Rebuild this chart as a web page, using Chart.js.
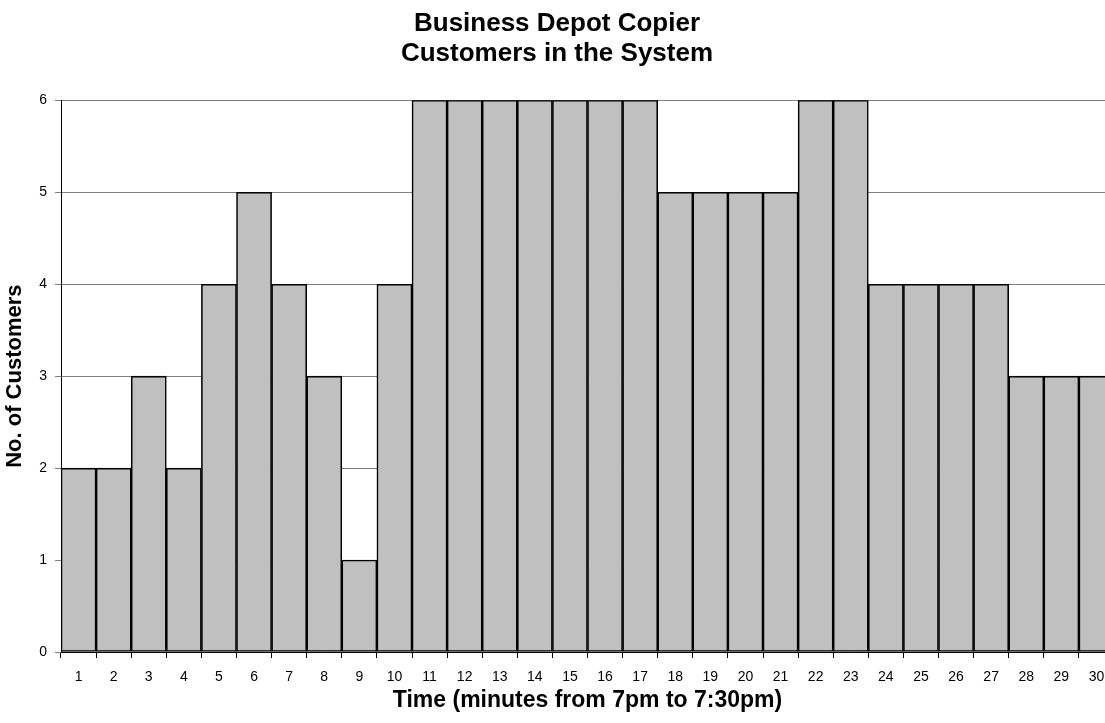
<!DOCTYPE html>
<html>
<head>
<meta charset="utf-8">
<script src="https://cdn.jsdelivr.net/npm/chart.js@4.4.1/dist/chart.umd.min.js"></script>
<style>
  html, body { margin: 0; padding: 0; background: #fff; overflow: hidden; }
  #wrap { width: 1105px; height: 723px; overflow: hidden; position: relative; }
  canvas { position: absolute; left: 0; top: 0; }
</style>
</head>
<body>
<div id="wrap"><canvas id="c" width="1130" height="723"></canvas></div>
<script>
// Minutes after 7pm and the number of customers at the copier in each minute
const minutes = ['1','2','3','4','5','6','7','8','9','10','11','12','13','14','15','16','17','18','19','20','21','22','23','24','25','26','27','28','29','30'];
const customers = [2,2,3,2,4,5,4,3,1,4,6,6,6,6,6,6,6,5,5,5,5,6,6,4,4,4,4,3,3,3];
const titleLines = ['Business Depot Copier', 'Customers in the System'];
const xTitle = 'Time (minutes from 7pm to 7:30pm)';
const yTitle = 'No. of Customers';

Chart.defaults.font.family = "'Liberation Sans', Arial, sans-serif";
Chart.defaults.color = '#000';

new Chart(document.getElementById('c'), {
  type: 'bar',
  data: {
    labels: minutes,
    datasets: [{
      data: customers,
      backgroundColor: '#C0C0C0',
      borderColor: '#000',
      borderWidth: 1.6,
      borderSkipped: false,
      categoryPercentage: 1,
      barPercentage: 1
    }]
  },
  options: {
    responsive: false,
    animation: false,
    layout: { padding: { left: 0, right: 16, top: 0, bottom: 0 } },
    plugins: {
      legend: { display: false },
      tooltip: { enabled: false },
      title: {
        display: true,
        text: titleLines,
        color: '#000',
        font: { size: 26, weight: 'bold', lineHeight: 1.16 },
        padding: { top: 9, bottom: 31 }
      }
    },
    scales: {
      x: {
        offset: true,
        grid: {
          offset: true,
          drawOnChartArea: false,
          drawTicks: true,
          tickLength: 6,
          color: '#000'
        },
        border: { display: true, color: '#000', width: 1 },
        ticks: { font: { size: 14 }, padding: 11, maxRotation: 0, autoSkip: false, color: '#000' },
        title: {
          display: true,
          text: xTitle,
          font: { size: 23, weight: 'bold' },
          padding: { top: 0, bottom: 9 },
          color: '#000'
        },
        afterFit: (s) => { s.height = 71; }
      },
      y: {
        min: 0,
        max: 6,
        ticks: { stepSize: 1, font: { size: 14 }, padding: 8, color: '#000' },
        grid: { color: '#808080', lineWidth: 1, drawTicks: true, tickLength: 6 },
        border: { display: true, color: '#000', width: 1 },
        title: {
          display: true,
          text: yTitle,
          font: { size: 22, weight: 'bold' },
          padding: { top: 2, bottom: 0 },
          color: '#000'
        },
        afterFit: (s) => { s.width = 61; }
      }
    }
  }
});
</script>
</body>
</html>
